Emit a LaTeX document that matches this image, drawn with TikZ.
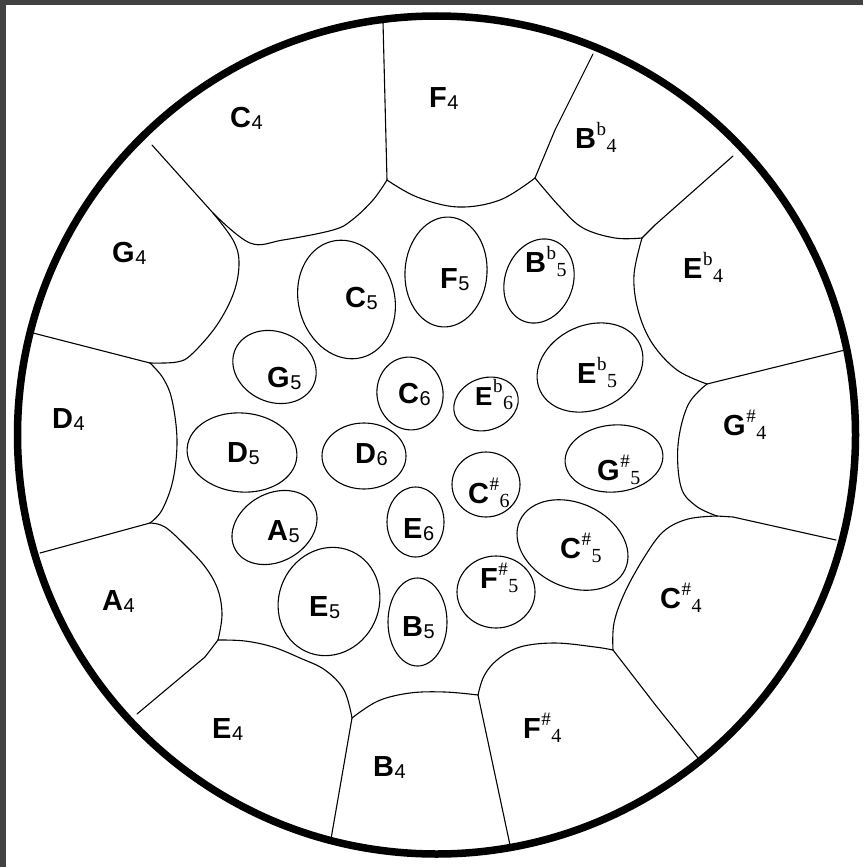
\documentclass[tikz,border=0pt]{standalone}
\usepackage{fontspec}
\setmainfont{Liberation Sans}
\newfontfamily\serifdig{Liberation Serif}
\newcommand\ntn[2]{#1\kern0.5pt\raisebox{-2pt}{\fontsize{20}{20}\selectfont\mdseries #2}}
\newcommand\nta[3]{#1\kern0.5pt\raisebox{13pt}{\fontsize{19}{19}\selectfont\serifdig\mdseries #2}\kern0.5pt\raisebox{-4pt}{\fontsize{20}{20}\selectfont\serifdig\mdseries #3}}
\definecolor{frame}{RGB}{66,66,66}
\begin{document}
\begin{tikzpicture}[x=1pt,y=-1pt,
  edge/.style={line width=1.1pt, line join=round, line cap=round},
  oval/.style={line width=1.1pt},
  lab/.style={inner sep=0pt, anchor=base west, font=\fontsize{29}{29}\selectfont\bfseries},
  labs/.style={lab, font=\fontsize{26}{26}\selectfont\bfseries}]
\useasboundingbox (0,0) rectangle (863,867);
\fill[white] (0,0) rectangle (863,867);
\fill[frame] (0,0) rectangle (863,5);
\fill[frame] (0,0) rectangle (6,867);

% junctions
\coordinate (J1) at (213,213);
\coordinate (J2) at (387,180);
\coordinate (J3) at (535,178);
\coordinate (J4) at (642,238);
\coordinate (J5) at (707,384);
\coordinate (J6) at (717,516);
\coordinate (J7) at (613,650);
\coordinate (J8) at (478,695);
\coordinate (J9) at (352,718);
\coordinate (J10) at (218,640);
\coordinate (J11) at (150,523);
\coordinate (J12) at (150,363);

% radial lines
\draw[edge] (152,145) -- (J1);
\draw[edge] (383,22) -- (J2);
\draw[edge] (593,54) -- (555,130) -- (J3);
\draw[edge] (733,156) -- (655,225) -- (J4);
\draw[edge] (845,350) -- (J5);
\draw[edge] (836,540) -- (733,517) -- (J6);
\draw[edge] (698,758) -- (657,707) -- (J7);
\draw[edge] (510,845) -- (J8);
\draw[edge] (331,839) -- (J9);
\draw[edge] (137,714) -- (205,657) -- (J10);
\draw[edge] (40,553) -- (J11);
\draw[edge] (33,333) -- (J12);

% inner edges of the outer cells
\draw[edge] plot[smooth, tension=0.6] coordinates {(213,213) (250,243) (283,240) (333,230) (352,220) (373,200) (387,180)};
\draw[edge] plot[smooth, tension=0.6] coordinates {(387,180) (417,197) (458,207) (500,200) (535,178)};
\draw[edge] plot[smooth, tension=0.6] coordinates {(535,178) (560,207) (583,228) (615,238) (642,238)};
\draw[edge] plot[smooth, tension=0.6] coordinates {(642,238) (634,275) (638,310) (652,343) (677,370) (707,384)};
\draw[edge] plot[smooth, tension=0.6] coordinates {(707,384) (688,405) (678,445) (681,487) (696,506) (717,516)};
\draw[edge] plot[smooth, tension=0.6] coordinates {(717,516) (688,519) (664,531) (645,556) (625,592) (614,623) (613,650)};
\draw[edge] plot[smooth, tension=0.6] coordinates {(613,650) (595,647) (555,643) (520,647) (497,660) (484,676) (478,695)};
\draw[edge] plot[smooth, tension=0.6] coordinates {(478,695) (445,692) (410,693) (378,701) (352,718)};
\draw[edge] plot[smooth, tension=0.6] coordinates {(352,718) (344,690) (325,670) (300,658) (273,647) (245,641) (218,640)};
\draw[edge] plot[smooth, tension=0.6] coordinates {(218,640) (222,615) (218,590) (206,568) (187,547) (165,527) (150,523)};
\draw[edge] plot[smooth, tension=0.6] coordinates {(150,523) (162,510) (173,480) (177,440) (172,400) (163,378) (150,363)};
\draw[edge] plot[smooth, tension=0.6] coordinates {(150,363) (177,362) (192,354) (217,325) (234,292) (239,262) (233,240) (213,213)};

% outer rim
\draw[line width=7.5pt] (436.5,435) circle[radius=419];

% inner ovals
\draw[oval, rotate around={15:(346.5,299.5)}] (346.5,299.5) ellipse[x radius=48, y radius=60];
\draw[oval, rotate around={-4:(446,272)}] (446,272) ellipse[x radius=41, y radius=55];
\draw[oval, rotate around={-20:(539,281)}] (539,281) ellipse[x radius=34, y radius=43];
\draw[oval, rotate around={25:(590,367.5)}] (590,367.5) ellipse[x radius=55, y radius=42];
\draw[oval, rotate around={5:(614,458.5)}] (614,458.5) ellipse[x radius=49, y radius=33.5];
\draw[oval, rotate around={-25:(572.5,545)}] (572.5,545) ellipse[x radius=58, y radius=42];
\draw[oval] (496,592) ellipse[x radius=39, y radius=36];
\draw[oval] (417.5,622) ellipse[x radius=29.5, y radius=44];
\draw[oval, rotate around={-25:(329,601.5)}] (329,601.5) ellipse[x radius=50, y radius=55];
\draw[oval, rotate around={30:(274.5,527.5)}] (274.5,527.5) ellipse[x radius=45, y radius=34];
\draw[oval, rotate around={-5:(242,452.5)}] (242,452.5) ellipse[x radius=55, y radius=39.5];
\draw[oval, rotate around={-25:(274.5,367)}] (274.5,367) ellipse[x radius=43, y radius=35];
\draw[oval, rotate around={10:(410,393.5)}] (410,393.5) ellipse[x radius=33, y radius=36.5];
\draw[oval, rotate around={20:(486,404)}] (486,404) ellipse[x radius=33, y radius=26];
\draw[oval] (364,456) ellipse[x radius=42, y radius=33];
\draw[oval] (486,484.5) ellipse[x radius=34, y radius=32.5];
\draw[oval] (415.5,522) ellipse[x radius=28.5, y radius=35];

% labels, octave 4
\node[lab] (C4) at (230,127) {\ntn{C}{4}};
\node[lab] (F4) at (429,107) {\ntn{F}{4}};
\node[lab] (Bb4) at (575,148) {\nta{B}{b}{4}};
\node[lab] (Eb4) at (683,278) {\nta{E}{b}{4}};
\node[lab] (G4) at (112,262) {\ntn{G}{4}};
\node[lab] (Gs4) at (723,435) {\nta{G}{\#}{4}};
\node[lab] (D4) at (52,428) {\ntn{D}{4}};
\node[lab] (A4) at (102,610) {\ntn{A}{4}};
\node[lab] (E4) at (212,738) {\ntn{E}{4}};
\node[lab] (B4) at (373,776) {\ntn{B}{4}};
\node[lab] (Fs4) at (523,738) {\nta{F}{\#}{4}};
\node[lab] (Cs4) at (660,608) {\nta{C}{\#}{4}};
% octave 5
\node[lab] (C5) at (345,307) {\ntn{C}{5}};
\node[lab] (F5) at (440,288) {\ntn{F}{5}};
\node[lab] (Bb5) at (525,272) {\nta{B}{b}{5}};
\node[lab] (Eb5) at (577,383) {\nta{E}{b}{5}};
\node[lab] (Gs5) at (597,480) {\nta{G}{\#}{5}};
\node[lab] (Cs5) at (560,558) {\nta{C}{\#}{5}};
\node[lab] (Fs5) at (480,588) {\nta{F}{\#}{5}};
\node[lab] (B5) at (402,636) {\ntn{B}{5}};
\node[lab] (E5) at (309,616) {\ntn{E}{5}};
\node[lab] (A5) at (267,540) {\ntn{A}{5}};
\node[lab] (D5) at (227,462) {\ntn{D}{5}};
\node[lab] (G5) at (267,387) {\ntn{G}{5}};
% octave 6
\node[lab] (C6) at (398,403) {\ntn{C}{6}};
\node[labs] (Eb6) at (475,405) {\nta{E}{b}{6}};
\node[lab] (D6) at (355,463) {\ntn{D}{6}};
\node[lab] (Cs6) at (468,503) {\nta{C}{\#}{6}};
\node[lab] (E6) at (403,538) {\ntn{E}{6}};
\end{tikzpicture}
\end{document}
